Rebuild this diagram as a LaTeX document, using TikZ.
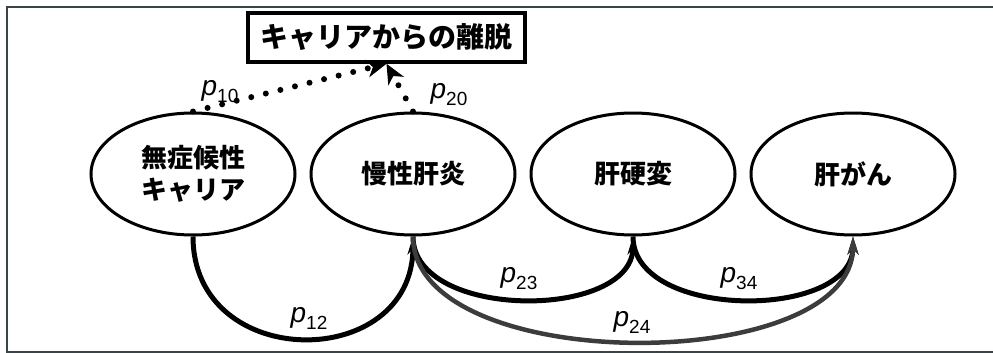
\documentclass[tikz,border=0pt]{standalone}
\usepackage{fontspec}
\setmainfont{Liberation Sans}
\newfontfamily\jp{Noto Sans CJK JP}
\usetikzlibrary{arrows.meta,shapes.geometric,calc}
\newcommand{\plab}[1]{{\fontsize{28}{28}\selectfont\itshape p}\raisebox{-7pt}{\fontsize{19}{19}\selectfont #1}}
\begin{document}
\begin{tikzpicture}[x=1pt,y=-1pt,
  state/.style={draw=black,ellipse,line width=3pt,minimum width=204pt,minimum height=122pt,inner sep=0pt,font=\jp\bfseries\fontsize{26}{32}\selectfont,align=center},
  exitbox/.style={draw=black,line width=3.5pt,minimum width=277pt,minimum height=49pt,inner sep=0pt,font=\jp\bfseries\fontsize{28}{28}\selectfont},
  trans/.style={line width=5pt,-{Stealth[length=18pt,width=11pt]}},
  leave/.style={line width=6pt,line cap=round,dash pattern=on 0pt off 15pt,-{Stealth[length=20pt,width=18pt,line width=0pt,inset=6pt]}},
  lab/.style={inner sep=0pt}]
\useasboundingbox (0,0) rectangle (993,353);
\draw[line width=2pt,color={rgb,255:red,58;green,68;blue,72}] (993,7) -- (7,7) -- (7,352) -- (993,352);
\node[exitbox] (exit) at (386.5,37.5) {キャリアからの離脱};
\node[state] (e1) at (193,174) {無症候性\\キャリア};
\node[state] (e2) at (413,174) {慢性肝炎};
\node[state] (e3) at (633,174) {肝硬変};
\node[state] (e4) at (853,174) {肝がん};
\draw[leave] (e1.north) -- (exit.south);
\draw[leave] (e2.north) -- (exit.south);
\draw[trans] (e1.south) .. controls ($(e1.south)+(0,136)$) and ($(e2.south)+(0,136)$) .. (e2.south);
\draw[trans] (e2.south) .. controls ($(e2.south)+(0,84)$) and ($(e3.south)+(0,84)$) .. (e3.south);
\draw[trans] (e3.south) .. controls ($(e3.south)+(0,84)$) and ($(e4.south)+(0,84)$) .. (e4.south);
\draw[trans,line width=4.5pt,color={rgb,255:red,60;green,60;blue,60}] (e2.south) .. controls ($(e2.south)+(0,140)$) and ($(e4.south)+(0,140)$) .. (e4.south);
\node[lab] (l10) at (220,92) {\plab{10}};
\node[lab] (l20) at (449,95) {\plab{20}};
\node[lab] (l12) at (309,318) {\plab{12}};
\node[lab] (l23) at (519,279) {\plab{23}};
\node[lab] (l34) at (739,279) {\plab{34}};
\node[lab] (l24) at (632,322) {\plab{24}};
\end{tikzpicture}
\end{document}
